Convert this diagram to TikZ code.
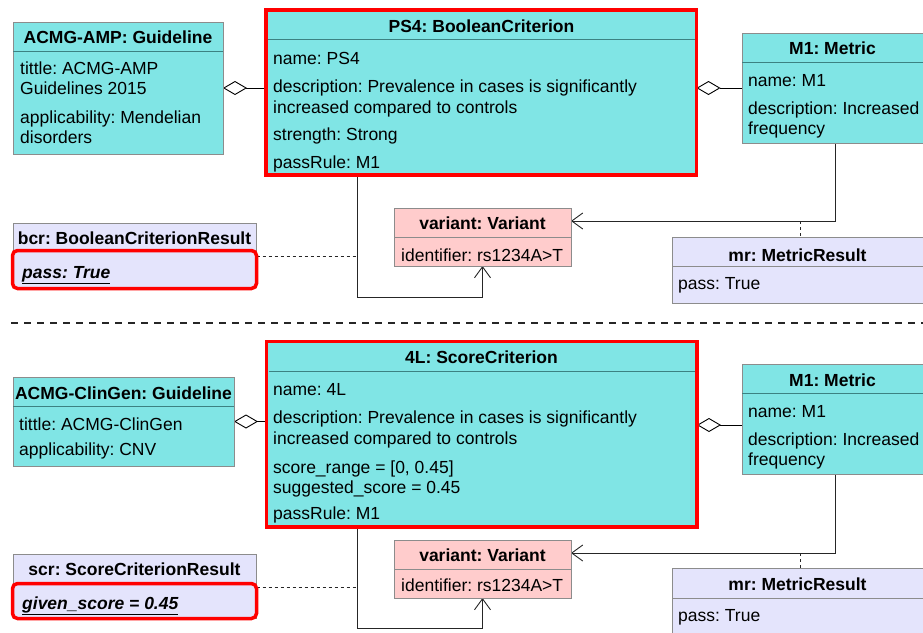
\documentclass[tikz,border=0pt]{standalone}
\usepackage{fontspec}
\setmainfont{Liberation Sans}
\usetikzlibrary{arrows.meta,backgrounds}

\definecolor{clsfill}{RGB}{128,229,229}
\definecolor{clsline}{RGB}{60,130,130}
\definecolor{boxedge}{RGB}{140,140,140}
\definecolor{varfill}{RGB}{255,204,204}
\definecolor{resfill}{RGB}{228,228,252}
\definecolor{hilite}{RGB}{255,0,0}

\newcommand{\umlfont}{\fontsize{17.5}{21}\selectfont\frenchspacing}

\tikzset{
  objbox/.style={rectangle, draw=boxedge, line width=0.9pt, inner sep=0pt, outer sep=0pt, anchor=north west},
  clsbox/.style={objbox, fill=clsfill},
  varbox/.style={objbox, fill=varfill},
  resbox/.style={objbox, fill=resfill},
  critbox/.style={rectangle, draw=hilite, line width=3.5pt, fill=clsfill, inner sep=0pt, outer sep=0pt, anchor=north west},
  hlbody/.style={rectangle, rounded corners=5pt, draw=hilite, line width=3.5pt, fill=resfill, inner sep=0pt, outer sep=0pt, anchor=north west},
  ttl/.style={font=\umlfont\bfseries, inner sep=0pt, anchor=base},
  fld/.style={font=\umlfont, inner sep=0pt, anchor=base west},
  clsdiv/.style={draw=clsline, line width=0.9pt},
  grydiv/.style={draw=boxedge, line width=0.9pt},
  agg/.style={draw=black, line width=0.9pt, -{Diamond[fill=white, length=24pt, width=14pt]}},
  nav/.style={draw=black!85, line width=0.9pt, -{Straight Barb[length=11pt, width=16pt]}},
  dep/.style={draw=black!85, line width=0.9pt, dash pattern=on 3pt off 3pt},
  partline/.style={draw=black!85, line width=2.5pt, dash pattern=on 7pt off 6pt},
}

\begin{document}
\begin{tikzpicture}[x=1pt, y=-1pt]
\useasboundingbox (0,0) rectangle (923,632);

% ---------------- upper part: boolean criterion ----------------
\node[clsbox, minimum width=210pt, minimum height=132pt] (amp) at (13,22) {};
\draw[clsdiv] (13,51) -- (223,51);
\node[ttl] (amp-t) at (118,43) {ACMG-AMP: Guideline};
\node[fld] (amp-1) at (20,74) {tittle: ACMG-AMP};
\node[fld] (amp-2) at (20,94) {Guidelines 2015};
\node[fld] (amp-3) at (20,123) {applicability: Mendelian};
\node[fld] (amp-4) at (20,143) {disorders};

\node[critbox, minimum width=430.5pt, minimum height=165pt] (ps4) at (266,10) {};
\draw[clsdiv] (268,39) -- (694.5,39);
\node[ttl] (ps4-t) at (481.5,32) {PS4: BooleanCriterion};
\node[fld] (ps4-1) at (273,64) {name: PS4};
\node[fld] (ps4-2) at (273,92) {description: Prevalence in cases is significantly};
\node[fld] (ps4-3) at (273,113) {increased compared to controls};
\node[fld] (ps4-4) at (273,140) {strength: Strong};
\node[fld] (ps4-5) at (273,168) {passRule: M1};

\node[clsbox, minimum width=184pt, minimum height=110pt] (m1) at (742,33) {};
\draw[clsdiv] (742,62) -- (926,62);
\node[ttl] (m1-t) at (832.5,54) {M1: Metric};
\node[fld] (m1-1) at (748,86) {name: M1};
\node[fld] (m1-2) at (748,114) {description: Increased};
\node[fld] (m1-3) at (748,134) {frequency};

\node[varbox, minimum width=177pt, minimum height=58pt] (var1) at (394,208) {};
\draw[grydiv] (394,237) -- (571,237);
\node[ttl] (var1-t) at (482.5,229) {variant: Variant};
\node[fld] (var1-1) at (401,261) {identifier: rs1234A>T};

\node[resbox, minimum width=243pt, minimum height=64pt] (bcr) at (13,223) {};
\node[ttl] (bcr-t) at (134.5,244) {bcr: BooleanCriterionResult};
\node[hlbody, minimum width=244pt, minimum height=38pt] (bcrhl) at (12.5,250.5) {};
\node[fld] (bcr-1) at (22,278) {\textbf{\textit{\underline{pass: True}}}};

\node[resbox, minimum width=254pt, minimum height=66pt] (mr) at (672,237) {};
\draw[grydiv] (672,266) -- (926,266);
\node[ttl] (mr-t) at (797.5,261) {mr: MetricResult};
\node[fld] (mr-1) at (678,289) {pass: True};

\coordinate (k1) at (357,297);
\coordinate (k2) at (835,221);
\coordinate (k3) at (357,256);
\coordinate (k4) at (800,221);

% ---------------- lower part: score criterion ----------------
\node[clsbox, minimum width=221pt, minimum height=89pt] (cg) at (13,377) {};
\draw[clsdiv] (13,406) -- (234,406);
\node[ttl] (cg-t) at (123.5,399) {ACMG-ClinGen: Guideline};
\node[fld] (cg-1) at (19,430) {tittle: ACMG-ClinGen};
\node[fld] (cg-2) at (19,455) {applicability: CNV};

\node[critbox, minimum width=430.5pt, minimum height=185.5pt] (sc4l) at (266.5,341.5) {};
\draw[clsdiv] (268.5,371) -- (695,371);
\node[ttl] (sc4l-t) at (481.5,363) {4L: ScoreCriterion};
\node[fld] (sc4l-1) at (273,395) {name: 4L};
\node[fld] (sc4l-2) at (273,423) {description: Prevalence in cases is significantly};
\node[fld] (sc4l-3) at (273,444) {increased compared to controls};
\node[fld] (sc4l-4) at (273,473) {score\_range = [0, 0.45]};
\node[fld] (sc4l-5) at (273,493) {suggested\_score = 0.45};
\node[fld] (sc4l-6) at (273,519) {passRule: M1};

\node[clsbox, minimum width=184pt, minimum height=110pt] (m1b) at (742,364) {};
\draw[clsdiv] (742,393) -- (926,393);
\node[ttl] (m1b-t) at (832.5,386) {M1: Metric};
\node[fld] (m1b-1) at (748,417) {name: M1};
\node[fld] (m1b-2) at (748,445) {description: Increased};
\node[fld] (m1b-3) at (748,465) {frequency};

\node[varbox, minimum width=177pt, minimum height=58pt] (var2) at (394,540) {};
\draw[grydiv] (394,569) -- (571,569);
\node[ttl] (var2-t) at (482.5,561) {variant: Variant};
\node[fld] (var2-1) at (401,591) {identifier: rs1234A>T};

\node[resbox, minimum width=243pt, minimum height=64pt] (scr) at (13,554) {};
\node[ttl] (scr-t) at (134.5,575) {scr: ScoreCriterionResult};
\node[hlbody, minimum width=244pt, minimum height=35pt] (scrhl) at (12.5,583.5) {};
\node[fld] (scr-1) at (22,609) {\textbf{\textit{\underline{given\_score = 0.45}}}};

\node[resbox, minimum width=254pt, minimum height=80pt] (mr2) at (672,568) {};
\draw[grydiv] (672,598) -- (926,598);
\node[ttl] (mr2-t) at (797.5,590) {mr: MetricResult};
\node[fld] (mr2-1) at (678,621) {pass: True};

\coordinate (k5) at (742,425);
\coordinate (k6) at (357,587);
\coordinate (k7) at (357,628);
\coordinate (k8) at (835,553);
\coordinate (k9) at (800,553);

% partition line between the two examples
\coordinate (s1) at (11,323);
\coordinate (s2) at (923,323);
\draw[partline] (s1) -- (s2);

% ---------------- connectors ----------------
\begin{pgfonlayer}{background}
  \draw[agg] (ps4.west |- amp.east) -- (amp.east);
  \draw[agg] (m1.west) -- (ps4.east |- m1.west);
  \draw[nav] (ps4.south -| k1) -- (k1) -| (var1.south);
  \draw[nav] (m1.south -| k2) |- (var1.east |- k2);
  \draw[dep] (bcrhl.east |- k3) -- (k3);
  \draw[dep] (k4) -- (mr.north -| k4);

  \draw[agg] (sc4l.west |- cg.east) -- (cg.east);
  \draw[agg] (m1b.west |- k5) -- (sc4l.east |- k5);
  \draw[nav] (sc4l.south -| k7) -- (k7) -| (var2.south);
  \draw[nav] (m1b.south -| k8) |- (var2.east |- k8);
  \draw[dep] (scrhl.east |- k6) -- (k6);
  \draw[dep] (k9) -- (mr2.north -| k9);
\end{pgfonlayer}
\end{tikzpicture}
\end{document}
